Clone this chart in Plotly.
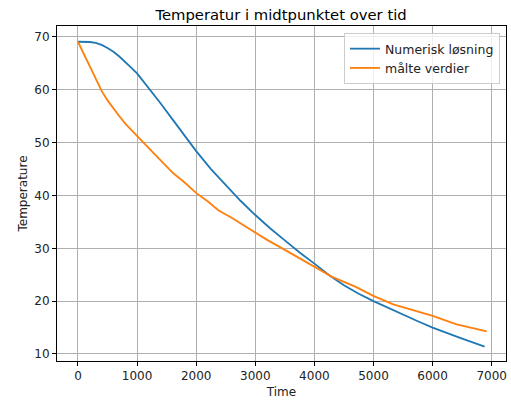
import plotly.graph_objects as go

t_num = [0, 100, 200, 300, 400, 500, 600, 700, 800, 900, 1000, 1200, 1400, 1600, 1800, 2000,
         2250, 2500, 2750, 3000, 3250, 3500, 3750, 4000, 4250, 4500, 4750, 5000, 5250, 5500,
         5750, 6000, 6250, 6500, 6750, 6880]
T_num = [69.1, 69.1, 69.05, 68.9, 68.5, 67.9, 67.2, 66.3, 65.3, 64.2, 63.1, 60.3, 57.4, 54.4,
         51.4, 48.4, 45.0, 41.9, 39.0, 36.3, 33.8, 31.5, 29.2, 27.1, 24.9, 23.0, 21.4, 20.0,
         18.7, 17.5, 16.2, 15.0, 13.9, 12.9, 11.9, 11.4]

t_meas = [0, 100, 200, 300, 400, 500, 600, 700, 800, 900, 1000, 1060, 1300, 1613, 1800, 2008,
          2205, 2374, 2600, 2910, 3200, 3500, 3982, 4300, 4700, 4997, 5335, 6001, 6407, 6915]
T_meas = [69.1, 66.8, 64.5, 62.1, 59.8, 58.0, 56.4, 55.0, 53.6, 52.4, 51.2, 50.6, 47.8, 44.2,
          42.5, 40.4, 38.8, 37.2, 35.8, 33.6, 31.6, 29.7, 26.6, 24.6, 22.7, 21.0, 19.4, 17.2,
          15.6, 14.3]

x_ticks = [0, 1000, 2000, 3000, 4000, 5000, 6000, 7000]
y_ticks = [10, 20, 30, 40, 50, 60, 70]

font = "DejaVu Sans"
fig = go.Figure()
fig.add_trace(go.Scatter(x=t_num, y=T_num, mode="lines", name="Numerisk løsning",
                         line=dict(color="#1f77b4", width=1.8)))
fig.add_trace(go.Scatter(x=t_meas, y=T_meas, mode="lines", name="målte verdier",
                         line=dict(color="#ff7f0e", width=1.8)))

axis_common = dict(showline=True, linecolor="black", linewidth=1, mirror=True,
                   ticks="outside", ticklen=4, tickcolor="black",
                   showgrid=True, gridcolor="#b0b0b0", gridwidth=1, zeroline=False,
                   tickfont=dict(family=font, size=12, color="#222222"))

fig.update_layout(
    width=511, height=402,
    margin=dict(l=57, r=5, t=26, b=41),
    paper_bgcolor="white", plot_bgcolor="white",
    font=dict(family=font, size=12, color="#222222"),
    title=dict(text="Temperatur i midtpunktet over tid", x=0.55, xanchor="center",
               y=0.963, yanchor="middle", font=dict(family=font, size=14.8, color="black")),
    xaxis=dict(range=[-355, 7242], tickvals=x_ticks,
               title=dict(text="Time", font=dict(family=font, size=12), standoff=5),
               **axis_common),
    yaxis=dict(range=[8.67, 72.08], tickvals=y_ticks,
               title=dict(text="Temperature", font=dict(family=font, size=12), standoff=4),
               **axis_common),
    legend=dict(x=0.9866, y=0.979, xanchor="right", yanchor="top",
                bgcolor="rgba(255,255,255,0.8)", bordercolor="#cccccc", borderwidth=1,
                font=dict(family=font, size=12.5, color="#222222")),
)

fig.write_html("out.html")
